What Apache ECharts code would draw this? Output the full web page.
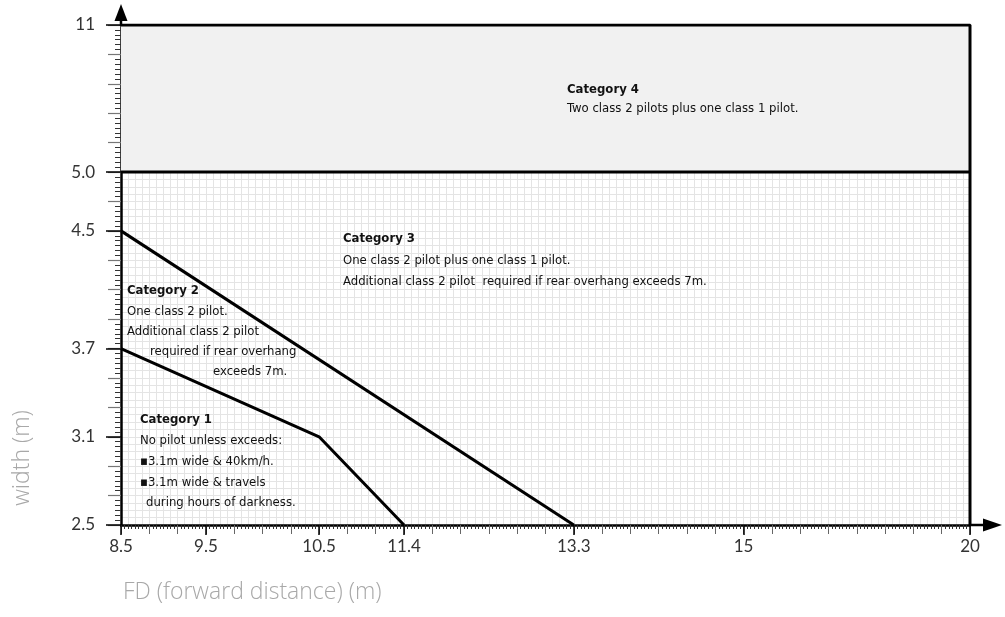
<!DOCTYPE html>
<html>
<head>
<meta charset="utf-8">
<script src="https://cdn.jsdelivr.net/npm/echarts@6/dist/echarts.min.js"></script>
<style>
  html, body { margin: 0; padding: 0; background: #fff; }
  #chart { width: 1005px; height: 617px; }
</style>
</head>
<body>
<div id="chart"></div>
<script>
// Axis scale: each labelled value sits on a given step of the graph-paper grid
const xTickValues = [8.5, 9.5, 10.5, 11.4, 13.3, 15, 20];
const xTickLabels = ['8.5', '9.5', '10.5', '11.4', '13.3', '15', '20'];
const xTickSteps  = [0, 3, 7, 10, 16, 22, 30];

const yTickValues = [2.5, 3.1, 3.7, 4.5, 5.0, 11];
const yTickLabels = ['2.5', '3.1', '3.7', '4.5', '5.0', '11'];
const yTickSteps  = [0, 3, 6, 10, 12, 17];

// Category boundaries as [forward distance, width] in metres
const boundary12 = [[8.5, 3.7], [10.5, 3.1], [11.4, 2.5]];
const boundary23 = [[8.5, 4.5], [13.3, 2.5]];
const boundary34 = [[8.5, 5.0], [20, 5.0]];
const outerFrame = [[8.5, 11], [20, 11], [20, 2.5]];
const category4Band = [[8.5, 5.0], [20, 11]];

// piecewise-linear mapping from metres to grid steps
function toSteps(v, vals, steps) {
  for (let i = 0; i < vals.length - 1; i++) {
    if (v <= vals[i + 1] || i === vals.length - 2) {
      return steps[i] + (v - vals[i]) / (vals[i + 1] - vals[i]) * (steps[i + 1] - steps[i]);
    }
  }
  return steps[0];
}
const px = v => toSteps(v, xTickValues, xTickSteps);
const py = v => toSteps(v, yTickValues, yTickSteps);
const toPoint = p => [px(p[0]), py(p[1])];

function stepLabel(steps, labels) {
  return function (v) {
    const i = steps.findIndex(s => Math.abs(s - v) < 1e-6);
    return i >= 0 ? labels[i] : '';
  };
}

const X_MAX = xTickSteps[xTickSteps.length - 1];
const Y_MAX = yTickSteps[yTickSteps.length - 1];

const labelFont = { fontFamily: 'Lato', fontSize: 17, color: '#333' };

function baseX(extra) {
  return Object.assign({
    type: 'value', min: 0, max: X_MAX, interval: 1, gridIndex: 0, position: 'bottom',
    axisLine: { show: false }, axisTick: { show: false }, axisLabel: { show: false },
    splitLine: { show: false }, minorTick: { show: false }, minorSplitLine: { show: false }
  }, extra);
}
function baseY(extra) {
  return Object.assign({
    type: 'value', min: 0, max: Y_MAX, interval: 1, gridIndex: 0, position: 'left',
    axisLine: { show: false }, axisTick: { show: false }, axisLabel: { show: false },
    splitLine: { show: false }, minorTick: { show: false }, minorSplitLine: { show: false }
  }, extra);
}

const gridColor = '#e4e4e4';

const option = {
  animation: false,
  backgroundColor: '#fff',
  grid: { left: 121, right: 35, top: 25, bottom: 92, containLabel: false },
  xAxis: [
    // graph-paper lines, four per step
    baseX({
      splitLine: { show: true, lineStyle: { color: gridColor, width: 1 } },
      minorTick: { show: false, splitNumber: 4 },
      minorSplitLine: { show: true, lineStyle: { color: gridColor, width: 1 } }
    }),
    // ruler: axis line, grey step ticks and eighth ticks
    baseX({
      axisLine: { show: true, lineStyle: { color: '#000', width: 2.5 } },
      axisTick: { show: true, inside: false, length: 9, lineStyle: { color: '#666', width: 1 } },
      minorTick: { show: true, splitNumber: 8, length: 4, lineStyle: { color: '#333', width: 1 } }
    }),
    // labelled ticks
    baseX({
      axisTick: { show: true, customValues: xTickSteps, length: 10, lineStyle: { color: '#000', width: 1.5 } },
      axisLabel: Object.assign({ show: true, customValues: xTickSteps, margin: 13,
        formatter: stepLabel(xTickSteps, xTickLabels) }, labelFont)
    })
  ],
  yAxis: [
    baseY({
      splitLine: { show: true, lineStyle: { color: gridColor, width: 1 } },
      minorTick: { show: false, splitNumber: 4 },
      minorSplitLine: { show: true, lineStyle: { color: gridColor, width: 1 } }
    }),
    baseY({
      axisLine: { show: true, lineStyle: { color: '#000', width: 2.5 } },
      axisTick: { show: true, length: 13, lineStyle: { color: '#777', width: 1.2 } },
      minorTick: { show: true, splitNumber: 6, length: 6, lineStyle: { color: '#333', width: 1 } }
    }),
    baseY({
      axisTick: { show: true, customValues: yTickSteps, length: 15, lineStyle: { color: '#000', width: 1.5 } },
      axisLabel: Object.assign({ show: true, customValues: yTickSteps, margin: 26,
        formatter: stepLabel(yTickSteps, yTickLabels) }, labelFont)
    })
  ],
  series: [
    {
      name: 'Category 4 band', type: 'line', data: [], z: -1, silent: true,
      markArea: {
        silent: true,
        itemStyle: { color: '#f1f1f1', opacity: 1 },
        data: [[
          { coord: toPoint(category4Band[0]) },
          { coord: toPoint(category4Band[1]) }
        ]]
      }
    },
    {
      name: 'Category 1 / 2', type: 'line', data: boundary12.map(toPoint), symbol: 'none',
      lineStyle: { color: '#000', width: 3 }, z: 5, silent: true
    },
    {
      name: 'Category 2 / 3', type: 'line', data: boundary23.map(toPoint), symbol: 'none',
      lineStyle: { color: '#000', width: 3 }, z: 5, silent: true
    },
    {
      name: 'Category 3 / 4', type: 'line', data: boundary34.map(toPoint), symbol: 'none',
      lineStyle: { color: '#000', width: 3 }, z: 5, silent: true
    },
    {
      name: 'Frame', type: 'line', data: outerFrame.map(toPoint), symbol: 'none',
      lineStyle: { color: '#000', width: 3 }, z: 5, silent: true
    }
  ]
};

const chart = echarts.init(document.getElementById('chart'), null, { renderer: 'canvas' });
chart.setOption(option);

// annotations and axis arrows
const noteFont = '"DejaVu Sans Condensed", "Liberation Sans Narrow", sans-serif';
function note(x, y, text, bold) {
  return {
    type: 'text', x: x, y: y, z: 20, silent: true,
    style: {
      text: text, fill: '#111',
      font: (bold ? 'bold ' : '') + '13px ' + noteFont,
      textVerticalAlign: 'middle'
    }
  };
}

const xEnd = chart.convertToPixel({ gridIndex: 0 }, [X_MAX, 0]);
const yEnd = chart.convertToPixel({ gridIndex: 0 }, [0, Y_MAX]);

const titleFont = '300 23px "Open Sans", Lato, sans-serif';

chart.setOption({
  graphic: [
    // x axis arrow
    { type: 'line', z: 20, silent: true, shape: { x1: xEnd[0], y1: xEnd[1], x2: xEnd[0] + 16, y2: xEnd[1] },
      style: { stroke: '#000', lineWidth: 2.5 } },
    { type: 'polygon', z: 20, silent: true,
      shape: { points: [[xEnd[0] + 13, xEnd[1] - 6.5], [xEnd[0] + 32, xEnd[1]], [xEnd[0] + 13, xEnd[1] + 6.5]] },
      style: { fill: '#000' } },
    // y axis arrow
    { type: 'line', z: 20, silent: true, shape: { x1: yEnd[0], y1: yEnd[1] + 1, x2: yEnd[0], y2: yEnd[1] - 6 },
      style: { stroke: '#000', lineWidth: 2.5 } },
    { type: 'polygon', z: 20, silent: true,
      shape: { points: [[yEnd[0] - 6.5, yEnd[1] - 4], [yEnd[0], yEnd[1] - 21], [yEnd[0] + 6.5, yEnd[1] - 4]] },
      style: { fill: '#000' } },

    // axis titles
    { type: 'text', z: 20, silent: true, x: 22, y: 458, rotation: Math.PI / 2,
      style: { text: 'width (m)', fill: '#a8a8a8', font: titleFont, textAlign: 'center', textVerticalAlign: 'middle' } },
    { type: 'text', z: 20, silent: true, x: 123, y: 592,
      style: { text: 'FD (forward distance) (m)', fill: '#a8a8a8', font: titleFont, textVerticalAlign: 'middle' } },

    // Category 4
    note(567, 90, 'Category 4', true),
    note(567, 109, 'Two class 2 pilots plus one class 1 pilot.'),
    // Category 3
    note(343, 239, 'Category 3', true),
    note(343, 261, 'One class 2 pilot plus one class 1 pilot.'),
    note(343, 282, 'Additional class 2 pilot  required if rear overhang exceeds 7m.'),
    // Category 2
    note(127, 291, 'Category 2', true),
    note(127, 312, 'One class 2 pilot.'),
    note(127, 332, 'Additional class 2 pilot'),
    note(150, 352, 'required if rear overhang'),
    note(213, 372, 'exceeds 7m.'),
    // Category 1
    note(140, 420, 'Category 1', true),
    note(140, 441, 'No pilot unless exceeds:'),
    note(140, 462, '\u25AA3.1m wide & 40km/h.'),
    note(140, 483, '\u25AA3.1m wide & travels'),
    note(146, 503, 'during hours of darkness.')
  ]
});
</script>
</body>
</html>
